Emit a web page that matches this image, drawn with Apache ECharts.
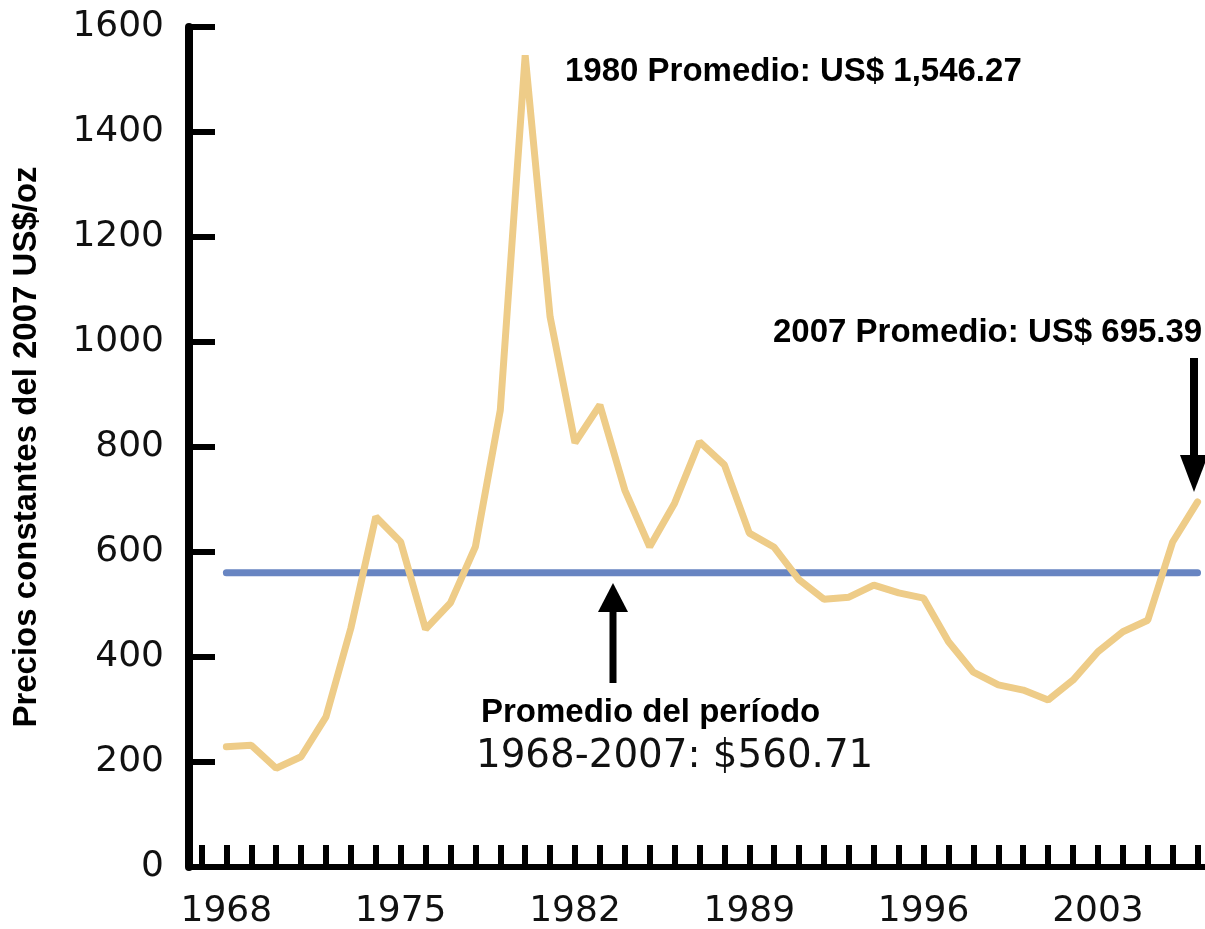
<!DOCTYPE html>
<html>
<head>
<meta charset="utf-8">
<script src="https://cdn.jsdelivr.net/npm/echarts@6/dist/echarts.min.js"></script>
<style>
  html, body { margin: 0; padding: 0; background: #fff; }
  #chart { width: 1205px; height: 929px; }
</style>
</head>
<body>
<div id="chart"></div>
<script>
// years shown on the chart
const years = ['1968','1969','1970','1971','1972','1973','1974','1975','1976','1977',
               '1978','1979','1980','1981','1982','1983','1984','1985','1986','1987',
               '1988','1989','1990','1991','1992','1993','1994','1995','1996','1997',
               '1998','1999','2000','2001','2002','2003','2004','2005','2006','2007'];
// axis starts one slot early, like the original spreadsheet axis
const axisYears = ['1967'].concat(years);
// constant 2007 US$/oz
const prices = [229, 232, 188, 210, 286, 455, 667, 619, 453, 503,
                610, 870, 1546.27, 1048, 808, 880, 718, 610, 693, 810,
                766, 636, 609, 547, 510, 514, 537, 522, 512, 429,
                371, 347, 337, 318, 356, 410, 448, 470, 619, 695.39];
const periodAvg = 560.71;
const avgLine = years.map(() => periodAvg);
const yTicks = { min: 0, max: 1600, interval: 200 };

let chart = echarts.init(document.getElementById('chart'));

const boldFont = 'bold 33px "Liberation Sans", Arial, sans-serif';

let option = {
    animation: false,
    backgroundColor: '#fff',
    grid: { left: 189, right: -5, top: 27, bottom: 62, containLabel: false, outerBoundsMode: 'none' },
    xAxis: {
        type: 'category',
        data: axisYears,
        boundaryGap: true,
        axisLine: { show: true, lineStyle: { color: '#000', width: 6 } },
        axisTick: {
            show: true, inside: true, length: 22, interval: 0, alignWithLabel: true,
            lineStyle: { color: '#000', width: 6 }
        },
        axisLabel: {
            interval: function (idx, val) { return (Number(val) - 1968) % 7 === 0; },
            fontFamily: 'DejaVu Sans', fontSize: 36, color: '#111', margin: 27
        },
        splitLine: { show: false }
    },
    yAxis: {
        type: 'value',
        min: yTicks.min, max: yTicks.max, interval: yTicks.interval,
        name: 'Precios constantes del 2007 US$/oz',
        nameLocation: 'middle',
        nameGap: 146,
        nameTextStyle: {
            fontFamily: 'Liberation Sans', fontWeight: 'bold', fontSize: 33, color: '#000'
        },
        axisLine: { show: true, lineStyle: { color: '#000', width: 8 } },
        axisTick: { show: true, inside: true, length: 26, lineStyle: { color: '#000', width: 6 } },
        axisLabel: {
            formatter: function (v) { return String(v); },
            fontFamily: 'DejaVu Sans', fontSize: 36, color: '#111', margin: 25
        },
        splitLine: { show: false }
    },
    series: [
        {
            name: 'Promedio del período',
            type: 'line',
            data: years.map((y, i) => [y, avgLine[i]]),
            symbol: 'none',
            lineStyle: { color: '#6885C2', width: 7, cap: 'round' },
            z: 2
        },
        {
            name: 'Precio',
            type: 'line',
            data: years.map((y, i) => [y, prices[i]]),
            symbol: 'none',
            lineStyle: { color: '#EECC88', width: 7, cap: 'round' },
            z: 3
        }
    ],
    graphic: [
        {
            type: 'text', x: 565, y: 72, z: 10,
            style: { text: '1980 Promedio: US$ 1,546.27', font: boldFont, fill: '#000', verticalAlign: 'middle' }
        },
        {
            type: 'text', x: 773, y: 333, z: 10,
            style: { text: '2007 Promedio: US$ 695.39', font: boldFont, fill: '#000', verticalAlign: 'middle' }
        },
        {
            type: 'text', x: 481, y: 713, z: 10,
            style: { text: 'Promedio del período', font: boldFont, fill: '#000', verticalAlign: 'middle' }
        },
        {
            type: 'text', x: 476, y: 757, z: 10,
            style: { text: '1968-2007: $560.71', font: '38.8px "DejaVu Sans", Verdana, sans-serif', fill: '#111', verticalAlign: 'middle' }
        },
        // down arrow to 2007
        {
            type: 'line', z: 10,
            shape: { x1: 1194, y1: 358, x2: 1194, y2: 462 },
            style: { stroke: '#000', lineWidth: 8 }
        },
        {
            type: 'polygon', z: 10,
            shape: { points: [[1180, 455], [1208, 455], [1194, 492]] },
            style: { fill: '#000' }
        },
        // up arrow to the average line
        {
            type: 'line', z: 10,
            shape: { x1: 613, y1: 605, x2: 613, y2: 683 },
            style: { stroke: '#000', lineWidth: 7 }
        },
        {
            type: 'polygon', z: 10,
            shape: { points: [[598, 612], [628, 612], [613, 583]] },
            style: { fill: '#000' }
        }
    ]
};
chart.setOption(option);
</script>
</body>
</html>
